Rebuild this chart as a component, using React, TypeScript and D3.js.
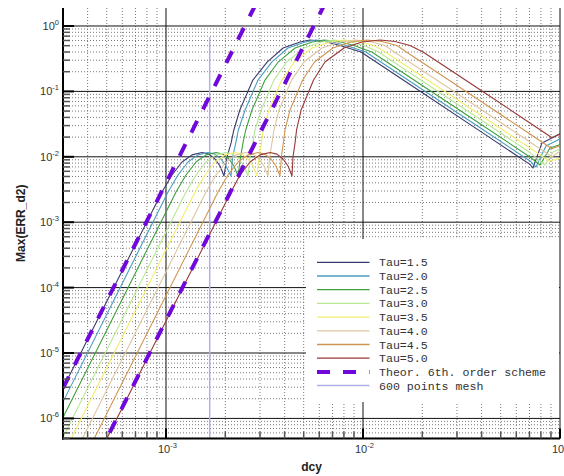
import React from 'react';
import * as d3 from 'd3';

type Pt = [number, number];

const tauLabels = ['Tau=1.5', 'Tau=2.0', 'Tau=2.5', 'Tau=3.0', 'Tau=3.5', 'Tau=4.0', 'Tau=4.5', 'Tau=5.0'];

const tau15: Pt[] = [[3.0e-4, 2.9e-6], [9.54e-4, 2.9e-3], [1.073e-3, 5.27e-3], [1.206e-3, 8.33e-3], [1.355e-3, 1.07e-2], [1.523e-3, 1.16e-2], [1.653e-3, 1.10e-2], [1.773e-3, 9.26e-3], [1.88e-3, 7.23e-3], [1.97e-3, 5.09e-3], [2.04e-3, 9.93e-3], [2.14e-3, 1.63e-2], [2.21e-3, 2.57e-2], [2.37e-3, 5.19e-2], [2.76e-3, 0.149], [3.26e-3, 0.281], [3.93e-3, 0.461], [4.79e-3, 0.569], [5.38e-3, 0.611], [6.41e-3, 0.579], [7.64e-3, 0.503], [9.77e-3, 0.400], [2.02e-2, 0.0935], [3.93e-2, 0.0247], [7.04e-2, 7.65e-3], [7.29e-2, 6.74e-3], [8.10e-2, 1.63e-2], [0.102, 2.31e-2]];
const tau20: Pt[] = [[3.0e-4, 1.79e-6], [1.024e-3, 2.9e-3], [1.151e-3, 5.27e-3], [1.293e-3, 8.33e-3], [1.454e-3, 1.07e-2], [1.634e-3, 1.16e-2], [1.773e-3, 1.10e-2], [1.902e-3, 9.26e-3], [2.017e-3, 7.23e-3], [2.138e-3, 5.09e-3], [2.18e-3, 9.93e-3], [2.26e-3, 1.63e-2], [2.33e-3, 2.57e-2], [2.52e-3, 5.19e-2], [2.93e-3, 0.149], [3.44e-3, 0.281], [4.16e-3, 0.461], [5.08e-3, 0.569], [5.77e-3, 0.611], [6.88e-3, 0.579], [8.20e-3, 0.503], [1.033e-2, 0.400], [2.017e-2, 0.105], [3.93e-2, 0.0278], [7.04e-2, 8.63e-3], [7.55e-2, 6.98e-3], [8.49e-2, 1.46e-2], [0.102, 1.94e-2]];
const tau25: Pt[] = [[3.0e-4, 1.03e-6], [1.124e-3, 2.9e-3], [1.263e-3, 5.27e-3], [1.42e-3, 8.33e-3], [1.596e-3, 1.07e-2], [1.794e-3, 1.16e-2], [1.947e-3, 1.10e-2], [2.089e-3, 9.26e-3], [2.214e-3, 7.23e-3], [2.32e-3, 5.09e-3], [2.39e-3, 9.93e-3], [2.46e-3, 1.63e-2], [2.54e-3, 2.57e-2], [2.73e-3, 5.19e-2], [3.18e-3, 0.149], [3.71e-3, 0.281], [4.52e-3, 0.461], [5.53e-3, 0.569], [6.34e-3, 0.611], [7.55e-3, 0.579], [9.0e-3, 0.503], [1.108e-2, 0.400], [2.017e-2, 0.121], [3.93e-2, 0.032], [7.04e-2, 9.93e-3], [7.91e-2, 7.49e-3], [8.9e-2, 1.36e-2], [0.102, 1.57e-2]];
const tau30: Pt[] = [[3.0e-4, 5.15e-7], [1.263e-3, 2.9e-3], [1.42e-3, 5.27e-3], [1.596e-3, 8.33e-3], [1.794e-3, 1.07e-2], [2.017e-3, 1.16e-2], [2.188e-3, 1.10e-2], [2.347e-3, 9.26e-3], [2.488e-3, 7.23e-3], [2.607e-3, 5.09e-3], [2.67e-3, 9.93e-3], [2.76e-3, 1.63e-2], [2.83e-3, 2.57e-2], [3.04e-3, 5.19e-2], [3.53e-3, 0.149], [4.10e-3, 0.281], [5.02e-3, 0.461], [6.15e-3, 0.569], [7.13e-3, 0.611], [8.49e-3, 0.579], [1.012e-2, 0.503], [1.2e-2, 0.400], [2.017e-2, 0.1417], [3.93e-2, 0.0375], [7.04e-2, 1.16e-2], [8.39e-2, 7.49e-3], [9.22e-2, 1.18e-2], [0.102, 1.36e-2]];
const tau35: Pt[] = [[3.0e-4, 2.77e-7], [1.404e-3, 2.9e-3], [1.578e-3, 5.27e-3], [1.773e-3, 8.33e-3], [1.993e-3, 1.07e-2], [2.24e-3, 1.16e-2], [2.431e-3, 1.10e-2], [2.607e-3, 9.26e-3], [2.764e-3, 7.23e-3], [2.897e-3, 5.09e-3], [2.96e-3, 9.93e-3], [3.05e-3, 1.63e-2], [3.12e-3, 2.57e-2], [3.33e-3, 5.19e-2], [3.87e-3, 0.149], [4.48e-3, 0.281], [5.51e-3, 0.461], [6.77e-3, 0.569], [8.01e-3, 0.611], [9.54e-3, 0.579], [1.137e-2, 0.503], [1.298e-2, 0.400], [2.017e-2, 0.166], [3.93e-2, 0.0439], [7.04e-2, 1.36e-2], [8.8e-2, 8.63e-3], [0.102, 9.59e-3]];
const tau40: Pt[] = [[3.0e-4, 1.26e-7], [1.596e-3, 2.9e-3], [1.794e-3, 5.27e-3], [2.017e-3, 8.33e-3], [2.266e-3, 1.07e-2], [2.548e-3, 1.16e-2], [2.764e-3, 1.10e-2], [2.965e-3, 9.26e-3], [3.144e-3, 7.23e-3], [3.294e-3, 5.09e-3], [3.36e-3, 9.93e-3], [3.45e-3, 1.63e-2], [3.53e-3, 2.57e-2], [3.75e-3, 5.19e-2], [4.34e-3, 0.149], [5.01e-3, 0.281], [6.19e-3, 0.461], [7.62e-3, 0.569], [9.11e-3, 0.611], [1.085e-2, 0.579], [1.293e-2, 0.503], [1.443e-2, 0.400], [2.017e-2, 0.205], [3.93e-2, 0.0542], [7.04e-2, 1.68e-2], [9.11e-2, 1.0e-2], [0.102, 1.27e-2]];
const tau45: Pt[] = [[3.0e-4, 5.52e-8], [1.837e-3, 2.9e-3], [2.064e-3, 5.27e-3], [2.32e-3, 8.33e-3], [2.607e-3, 1.07e-2], [2.931e-3, 1.16e-2], [3.181e-3, 1.10e-2], [3.412e-3, 9.26e-3], [3.617e-3, 7.23e-3], [3.79e-3, 5.09e-3], [3.85e-3, 9.93e-3], [3.94e-3, 1.63e-2], [4.02e-3, 2.57e-2], [4.26e-3, 5.19e-2], [4.94e-3, 0.149], [5.67e-3, 0.281], [7.04e-3, 0.461], [8.68e-3, 0.569], [1.048e-2, 0.611], [1.249e-2, 0.579], [1.488e-2, 0.503], [1.661e-2, 0.400], [2.017e-2, 0.272], [3.93e-2, 0.0718], [7.04e-2, 0.0223], [9.11e-2, 1.33e-2], [0.102, 1.52e-2]];
const tau50: Pt[] = [[3.0e-4, 2.3e-8], [2.138e-3, 2.9e-3], [2.374e-3, 5.27e-3], [2.669e-3, 8.33e-3], [3.0e-3, 1.07e-2], [3.372e-3, 1.16e-2], [3.66e-3, 1.10e-2], [3.926e-3, 9.26e-3], [4.163e-3, 7.23e-3], [4.361e-3, 5.09e-3], [4.41e-3, 9.93e-3], [4.52e-3, 1.63e-2], [4.6e-3, 2.57e-2], [4.85e-3, 5.19e-2], [5.61e-3, 0.149], [6.41e-3, 0.281], [8.01e-3, 0.461], [9.88e-3, 0.569], [1.22e-2, 0.611], [1.454e-2, 0.579], [1.732e-2, 0.503], [2.017e-2, 0.400], [3.93e-2, 0.1058], [7.04e-2, 0.0329], [9.11e-2, 1.96e-2], [0.102, 2.31e-2]];

const theorUpper: Pt[] = [[3.0e-4, 2.9e-6], [2.82e-3, 2.0]];
const theorLower: Pt[] = [[3.0e-4, 2.3e-8], [6.31e-3, 2.0]];
const meshDcy = 1 / 600;
const meshTop = 0.68;

const xTickExps = [-3, -2, -1];
const yTickExps = [0, -1, -2, -3, -4, -5, -6];

const X_DOMAIN: [number, number] = [3e-4, 0.1];
const Y_DOMAIN: [number, number] = [4.93e-7, 1.884];

const tauSeries = [tau15, tau20, tau25, tau30, tau35, tau40, tau45, tau50];
const tauColors = ['#3a3a6c', '#4a9ec0', '#3ea23e', '#b9e894', '#f2ee6a', '#dfc6a0', '#d09650', '#983838'];
const theorColor = '#7008dc';
const meshColor = '#b0b0ea';

export default function App() {
  const W = 564, H = 476;
  const L = 63, R = 560, T = 8, B = 438.5;
  const x = d3.scaleLog().domain(X_DOMAIN).range([L, R]);
  const y = d3.scaleLog().domain(Y_DOMAIN).range([B, T]);
  const line = d3.line<Pt>().x(d => x(d[0])).y(d => y(d[1]));

  const xMinor: number[] = [];
  for (let e = -4; e <= -2; e++) for (let m = 2; m <= 9; m++) {
    const v = m * Math.pow(10, e);
    if (v > X_DOMAIN[0] * 1.001 && v < X_DOMAIN[1] * 0.999) xMinor.push(v);
  }
  const yMinor: number[] = [];
  for (let e = -7; e <= 0; e++) for (let m = 2; m <= 9; m++) {
    const v = m * Math.pow(10, e);
    if (v > Y_DOMAIN[0] && v < Y_DOMAIN[1]) yMinor.push(v);
  }

  const legendRows = [
    ...tauLabels.map((t, i) => ({ label: t, color: tauColors[i], dash: false, w: 1.3 })),
    { label: 'Theor. 6th. order scheme', color: theorColor, dash: true, w: 4 },
    { label: '600 points mesh', color: meshColor, dash: false, w: 1.5 },
  ];

  const tickFont = 'Liberation Sans, Arial, Helvetica, sans-serif';

  return (
    <svg width={W} height={H} style={{ position: 'absolute', left: 0, top: 0, background: '#fff' }}>
      <defs>
        <clipPath id="plotclip">
          <rect x={L} y={T} width={R - L} height={B - T} />
        </clipPath>
      </defs>
      <rect x={0} y={0} width={W} height={H} fill="#fff" />
      {/* minor grid */}
      <g stroke="#7a7a7a" strokeWidth={1} strokeDasharray="1 2">
        {xMinor.map((v, i) => (
          <line key={'xm' + i} x1={x(v)} x2={x(v)} y1={T} y2={B} />
        ))}
        {yMinor.map((v, i) => (
          <line key={'ym' + i} x1={L} x2={R} y1={y(v)} y2={y(v)} />
        ))}
      </g>
      {/* major grid */}
      <g stroke="#111" strokeWidth={1}>
        {xTickExps.map(e => (
          <line key={'xM' + e} x1={x(Math.pow(10, e))} x2={x(Math.pow(10, e))} y1={T} y2={B} />
        ))}
        {yTickExps.map(e => (
          <line key={'yM' + e} x1={L} x2={R} y1={y(Math.pow(10, e))} y2={y(Math.pow(10, e))} />
        ))}
      </g>
      {/* curves */}
      <g clipPath="url(#plotclip)" fill="none">
        <line x1={x(meshDcy)} x2={x(meshDcy)} y1={y(Y_DOMAIN[0])} y2={y(meshTop)} stroke={meshColor} strokeWidth={1.5} />
        {tauSeries.map((s, i) => (
          <path key={'tau' + i} d={line(s) || ''} stroke={tauColors[i]} strokeWidth={1.1} strokeLinejoin="round" />
        ))}
        {[theorUpper, theorLower].map((s, i) => (
          <path key={'th' + i} d={line(s) || ''} stroke={theorColor} strokeWidth={4} strokeDasharray="13 13" />
        ))}
      </g>
      {/* legend */}
      <rect x={306} y={239} width={253} height={163} fill="#fff" />
      {legendRows.map((r, i) => {
        const cy = 262.3 + 13.7 * i;
        return (
          <g key={'lg' + i}>
            <line x1={317} x2={369.5} y1={cy} y2={cy} stroke={r.color} strokeWidth={r.w} strokeDasharray={r.dash ? '13 13' : undefined} />
            <text x={379} y={cy + 4} fontFamily="Liberation Mono, Courier New, monospace" fontSize={11.6} fill="#333">{r.label}</text>
          </g>
        );
      })}
      {/* axes */}
      <g stroke="#000">
        <line x1={L} x2={L} y1={T} y2={B + 1} strokeWidth={2} />
        <line x1={L - 1} x2={R} y1={B} y2={B} strokeWidth={2} />
        {yTickExps.map(e => (
          <line key={'yt' + e} x1={L} x2={L + 11} y1={y(Math.pow(10, e))} y2={y(Math.pow(10, e))} strokeWidth={2} />
        ))}
        {yMinor.map((v, i) => (
          <line key={'ytm' + i} x1={L} x2={L + 7} y1={y(v)} y2={y(v)} strokeWidth={1.5} stroke="#555" />
        ))}
        {xTickExps.map(e => (
          <line key={'xt' + e} x1={x(Math.pow(10, e))} x2={x(Math.pow(10, e))} y1={B} y2={B - 10} strokeWidth={2} />
        ))}
        {xMinor.map((v, i) => (
          <line key={'xtm' + i} x1={x(v)} x2={x(v)} y1={B} y2={B - 7} strokeWidth={1.5} stroke="#555" />
        ))}
      </g>
      {/* tick labels */}
      <g fontFamily={tickFont} fill="#333">
        {yTickExps.map(e => (
          <text key={'yl' + e} x={59} y={y(Math.pow(10, e)) + 4} textAnchor="end" fontSize={11}>
            <tspan>10</tspan>
            <tspan dy={-5} fontSize={7.5}>{e === 0 ? '0' : '-' + Math.abs(e)}</tspan>
          </text>
        ))}
        {xTickExps.map(e => (
          <text key={'xl' + e} x={x(Math.pow(10, e)) - 8} y={452.5} fontSize={11}>
            <tspan>10</tspan>
            <tspan dy={-5} fontSize={7.5}>{'-' + Math.abs(e)}</tspan>
          </text>
        ))}
      </g>
      {/* axis titles */}
      <text x={(L + R) / 2} y={471} textAnchor="middle" fontFamily={tickFont} fontWeight="bold" fontSize={12} fill="#222">dcy</text>
      <text transform={`translate(25, ${(T + B) / 2}) rotate(-90)`} textAnchor="middle" fontFamily={tickFont} fontWeight="bold" fontSize={12} fill="#222">Max(ERR_d2)</text>
    </svg>
  );
}
